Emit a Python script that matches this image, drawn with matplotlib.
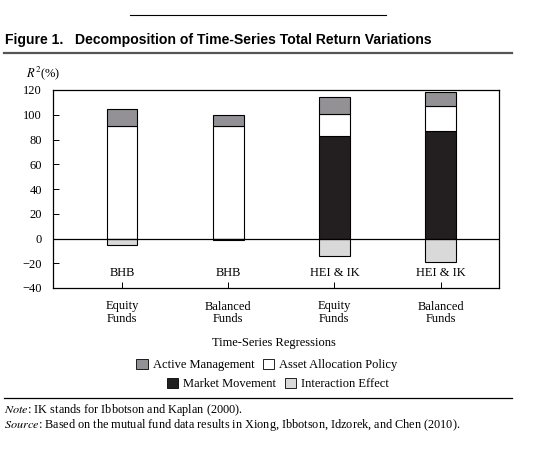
import matplotlib
matplotlib.use("Agg")
import matplotlib.pyplot as plt
from matplotlib.patches import Patch
from matplotlib.lines import Line2D
import numpy as np

# ---- data ----
method_labels = ["BHB", "BHB", "HEI & IK", "HEI & IK"]
fund_labels = ["Equity\nFunds", "Balanced\nFunds", "Equity\nFunds", "Balanced\nFunds"]
market_movement = [0, 0, 83, 87]
asset_allocation = [91, 91, 18, 20]
active_management = [14, 9, 13, 11]
interaction_effect = [-5, -1.5, -14, -19]
yticks = [-40, -20, 0, 20, 40, 60, 80, 100, 120]

plt.rcParams["font.family"] = ["Liberation Serif", "DejaVu Serif"]
plt.rcParams["mathtext.fontset"] = "stix"

c_active = "#939196"
c_asset = "#ffffff"
c_market = "#231f20"
c_inter = "#d9d9d9"

W, H = 535, 451
fig = plt.figure(figsize=(W / 100, H / 100), dpi=100)

def fx(px):
    return px / W

def fy(py):
    return 1 - py / H

ax = fig.add_axes([fx(53), fy(288), fx(499) - fx(53), fy(90) - fy(288)])
x = np.arange(len(method_labels))
bw = 0.29
m = np.array(market_movement, float)
a = np.array(asset_allocation, float)
act = np.array(active_management, float)
inter = np.array(interaction_effect, float)

ekw = dict(edgecolor="black", linewidth=0.8, width=bw, zorder=2)
ax.bar(x, m, color=c_market, **ekw)
ax.bar(x, a, bottom=m, color=c_asset, **ekw)
ax.bar(x, act, bottom=m + a, color=c_active, **ekw)
ax.bar(x, inter, color=c_inter, **ekw)
ax.axhline(0, color="black", linewidth=0.9, zorder=3)

for xi, lab in zip(x, method_labels):
    ax.text(xi, -28, lab, ha="center", va="center", fontsize=9)

ax.set_xlim(-0.65, 3.55)
ax.set_ylim(-40, 120)
ax.set_yticks(yticks)
ax.set_yticklabels([str(t).replace("-", "\u2212") for t in yticks], fontsize=9)
ax.set_xticks(x)
ax.set_xticklabels(fund_labels, fontsize=9, linespacing=1.0)
ax.tick_params(axis="both", direction="in", length=4, width=0.7)
ax.tick_params(axis="y", pad=8)
ax.tick_params(axis="x", pad=9)
for s in ax.spines.values():
    s.set_linewidth(0.9)

fig.text(fx(274), fy(343), "Time-Series Regressions", ha="center", va="center", fontsize=9)
fig.text(fx(26), fy(73), r"$\mathit{R}^{2}$(%)", ha="left", va="center", fontsize=9)

# title and rules
fig.add_artist(Line2D([fx(130), fx(386)], [fy(15), fy(15)], color="black", linewidth=0.8))
fig.text(fx(5), fy(40), "Figure 1.   Decomposition of Time-Series Total Return Variations",
         ha="left", va="center", fontsize=10.1, fontweight="bold", family="Liberation Sans")
fig.add_artist(Line2D([fx(4), fx(512)], [fy(53), fy(53)], color="#555555", linewidth=1.6))
fig.add_artist(Line2D([fx(4), fx(512)], [fy(398), fy(398)], color="black", linewidth=0.9))

# legends
h1 = [Patch(facecolor=c_active, edgecolor="black", linewidth=0.6, label="Active Management"),
      Patch(facecolor=c_asset, edgecolor="black", linewidth=0.6, label="Asset Allocation Policy")]
h2 = [Patch(facecolor=c_market, edgecolor="black", linewidth=0.6, label="Market Movement"),
      Patch(facecolor=c_inter, edgecolor="black", linewidth=0.6, label="Interaction Effect")]
lkw = dict(ncol=2, frameon=False, fontsize=9, handlelength=0.9, handleheight=0.9,
           handletextpad=0.4, columnspacing=0.7, borderpad=0, borderaxespad=0)
l1 = fig.legend(handles=h1, loc="center", bbox_to_anchor=(fx(267), fy(365)), **lkw)
l2 = fig.legend(handles=h2, loc="center", bbox_to_anchor=(fx(278), fy(384)), **lkw)

fig.text(fx(4), fy(410), r"$\mathit{Note}$: IK stands for Ibbotson and Kaplan (2000).",
         ha="left", va="center", fontsize=8.8)
fig.text(fx(4), fy(425), r"$\mathit{Source}$: Based on the mutual fund data results in Xiong, Ibbotson, Idzorek, and Chen (2010).",
         ha="left", va="center", fontsize=8.8)

fig.savefig("out.png", dpi=100)
